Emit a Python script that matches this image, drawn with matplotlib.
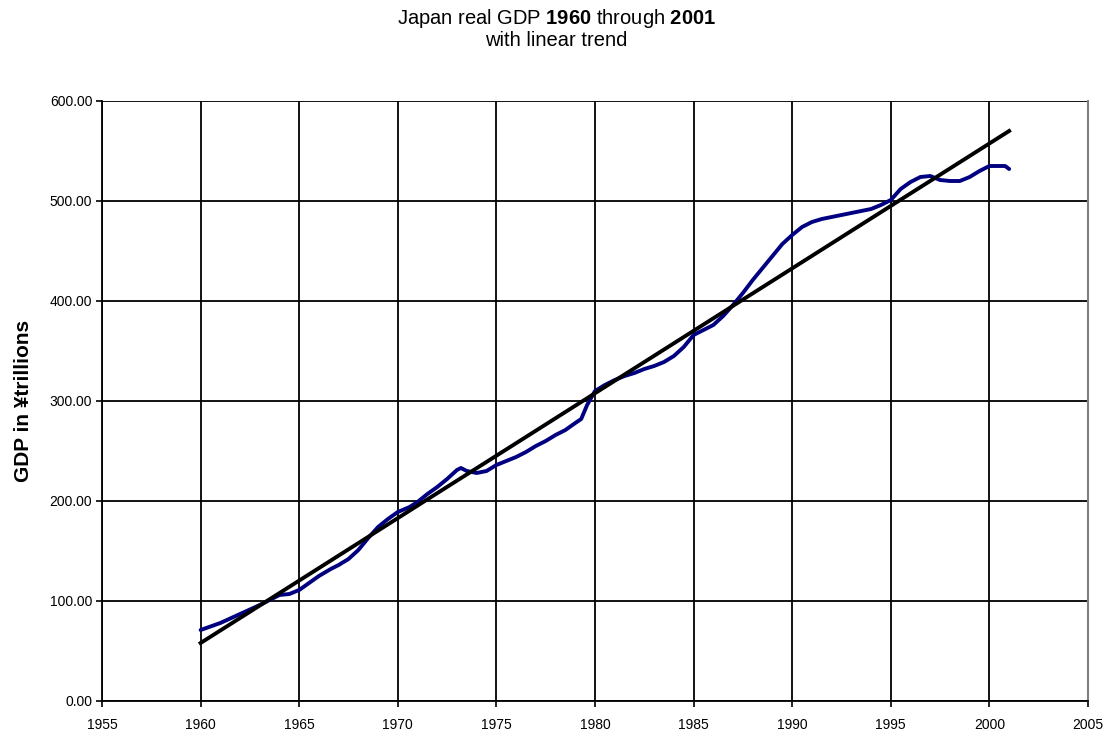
import matplotlib
matplotlib.use("Agg")
import matplotlib.pyplot as plt
from matplotlib.ticker import FormatStrFormatter

plt.rcParams['font.family'] = ['Liberation Sans', 'DejaVu Sans']
plt.rcParams['mathtext.fontset'] = 'custom'
plt.rcParams['mathtext.rm'] = 'Liberation Sans'
plt.rcParams['mathtext.bf'] = 'Liberation Sans:bold'

years = [1960.0, 1961.0, 1962.0, 1963.0, 1963.5, 1964.0, 1964.5, 1965.0, 1965.5, 1966.0,
         1966.6, 1967.0, 1967.5, 1968.0, 1968.5, 1969.0, 1969.5, 1970.0, 1970.6, 1971.0,
         1971.5, 1972.0, 1972.5, 1973.0, 1973.2, 1973.5, 1974.0, 1974.5, 1975.0, 1975.5,
         1976.0, 1976.5, 1977.0, 1977.5, 1978.0, 1978.5, 1979.0, 1979.3, 1979.6, 1980.0,
         1980.5, 1981.0, 1981.5, 1982.0, 1982.5, 1983.0, 1983.5, 1984.0, 1984.5, 1985.0,
         1985.5, 1986.0, 1986.5, 1987.0, 1987.5, 1988.0, 1988.5, 1989.0, 1989.5, 1990.0,
         1990.5, 1991.0, 1991.5, 1992.0, 1992.5, 1993.0, 1993.5, 1994.0, 1994.5, 1995.0,
         1995.5, 1996.0, 1996.5, 1997.0, 1997.5, 1998.0, 1998.5, 1999.0, 1999.5, 2000.0,
         2000.5, 2000.8, 2001.0]
gdp = [71, 78, 87, 96, 101, 106, 107, 111, 118, 125,
       132, 136, 142, 151, 163, 174, 182, 189, 194, 199,
       207, 214, 222, 231, 233, 230, 228, 230, 236, 240,
       244, 249, 255, 260, 266, 271, 278, 282, 296, 310,
       316, 321, 325, 328, 332, 335, 339, 345, 354, 366,
       371, 376, 385, 396, 408, 421, 433, 445, 457, 466,
       474, 479, 482, 484, 486, 488, 490, 492, 496, 501,
       512, 519, 524, 525, 521, 520, 520, 524, 530, 535,
       535, 535, 532]

trend_years = [1960, 2001]
trend_values = [58, 570]

x_ticks = list(range(1955, 2006, 5))
y_ticks = list(range(0, 601, 100))

fig = plt.figure(figsize=(11.13, 7.37), dpi=100)
ax = fig.add_axes([102/1113, 36/737, (1088-102)/1113, 600/737])

ax.set_xlim(1955, 2005)
ax.set_ylim(0, 600)
ax.set_xticks(x_ticks)
ax.set_yticks(y_ticks)
ax.yaxis.set_major_formatter(FormatStrFormatter('%.2f'))
ax.grid(True, color='black', linewidth=1.3)
ax.set_axisbelow(True)

ax.plot(years, gdp, color='#000080', linewidth=2.8, solid_capstyle='round', zorder=3)
ax.plot(trend_years, trend_values, color='black', linewidth=2.8, zorder=4)

for s in ['left', 'bottom']:
    ax.spines[s].set_color('black')
    ax.spines[s].set_linewidth(1.3)
ax.spines['top'].set_visible(False)
ax.spines['right'].set_color('#808080')
ax.spines['right'].set_linewidth(1.5)

ax.tick_params(axis='both', direction='out', length=4, width=1.2, color='black',
               labelsize=10)
ax.tick_params(axis='x', pad=8)
ax.tick_params(axis='y', pad=3)

ax.set_ylabel('GDP in ¥trillions', fontsize=15, fontweight='bold', labelpad=12)

fig.text(0.5, 1 - 18/737, r'Japan real GDP $\mathbf{1960}$ through $\mathbf{2001}$',
         ha='center', va='center', fontsize=14.5)
fig.text(0.5, 1 - 41/737, 'with linear trend', ha='center', va='center', fontsize=14.5)

fig.savefig('out.png', dpi=100)
